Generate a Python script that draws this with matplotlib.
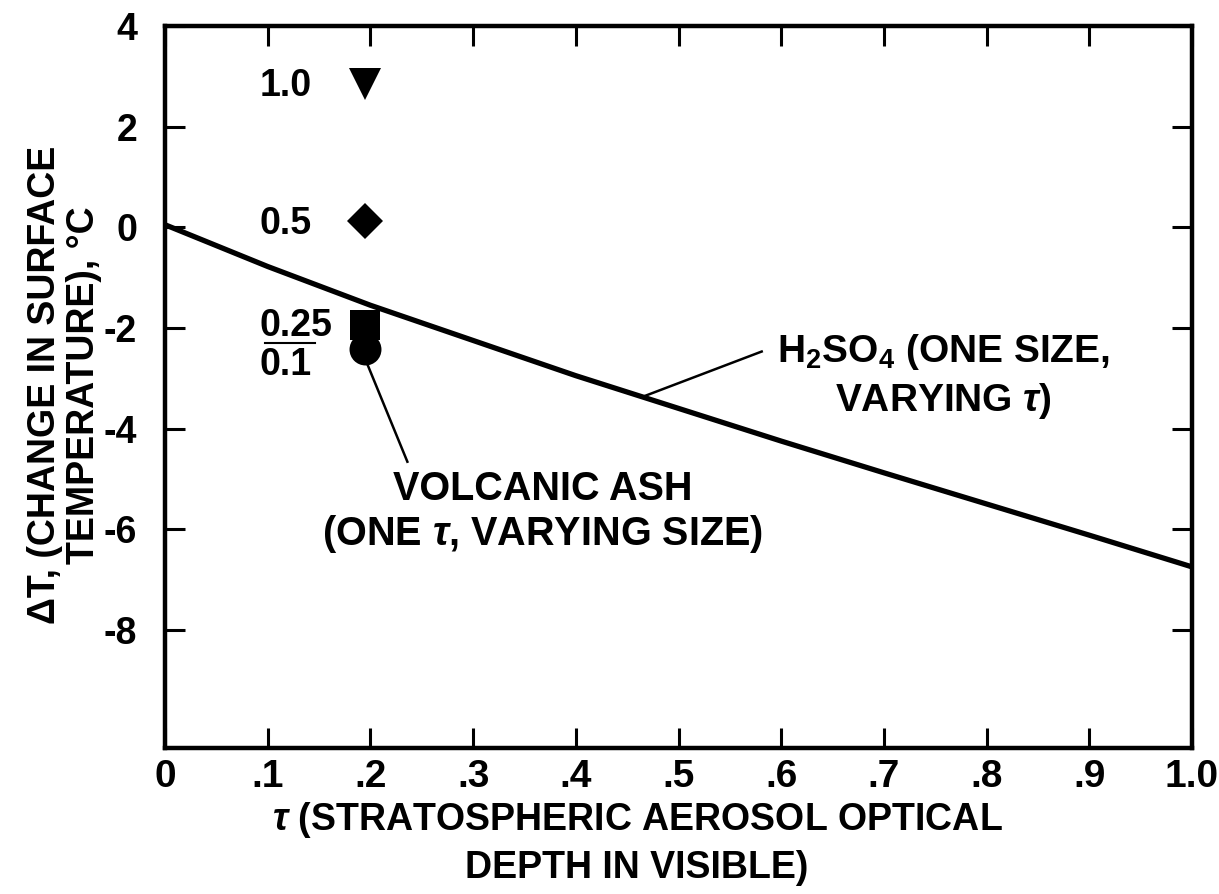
import matplotlib
matplotlib.use("Agg")
import matplotlib.pyplot as plt

plt.rcParams["font.family"] = ["Liberation Sans", "DejaVu Sans"]
plt.rcParams["font.weight"] = "bold"
plt.rcParams["mathtext.fontset"] = "custom"
plt.rcParams["mathtext.rm"] = "Liberation Sans:bold"
plt.rcParams["mathtext.it"] = "Liberation Sans:italic:bold"
plt.rcParams["mathtext.bf"] = "Liberation Sans:bold"

# H2SO4 response: surface temperature change vs optical depth
tau = [0.0, 0.1, 0.2, 0.3, 0.4, 0.5, 0.6, 0.7, 0.8, 0.9, 1.0]
dT_h2so4 = [0.05, -0.78, -1.55, -2.25, -2.95, -3.6, -4.25, -4.88, -5.5, -6.12, -6.75]

# Volcanic ash at a single optical depth, varying particle size
ash_tau = 0.195
ash_sizes = ["1.0", "0.5", "0.25", "0.1"]
ash_dT = [2.85, 0.12, -1.95, -2.42]
ash_markers = ["v", "D", "s", "o"]

xticks = [0.0, 0.1, 0.2, 0.3, 0.4, 0.5, 0.6, 0.7, 0.8, 0.9, 1.0]
xtick_labels = ["0", ".1", ".2", ".3", ".4", ".5", ".6", ".7", ".8", ".9", "1.0"]
yticks = [4, 2, 0, -2, -4, -6, -8]
ytick_labels = ["4", "2", "0", "-2", "-4", "-6", "-8"]

fig = plt.figure(figsize=(12.19, 8.94), dpi=100)
ax = fig.add_axes([165 / 1219, 1 - 748 / 894, (1192 - 165) / 1219, (748 - 26) / 894])

ax.plot(tau, dT_h2so4, color="black", lw=3.8, solid_capstyle="butt")

msizes = {"v": 23, "D": 18, "s": 22, "o": 23}
for m, v in zip(ash_markers, ash_dT):
    ax.plot([ash_tau], [v], marker=m, ms=msizes[m], color="black",
            markeredgewidth=0, linestyle="none")

# size labels beside the ash points
label_x = 0.0925
label_base = [2.61, -0.14, -2.17, -2.93]
for txt, yb in zip(ash_sizes, label_base):
    ax.text(label_x, yb, txt, fontsize=27, fontweight="bold", ha="left", va="baseline")
ax.plot([0.097, 0.146], [-2.31, -2.31], color="black", lw=1.5)

# leader lines and annotations (baseline given for the last line of each block)
ax.plot([0.197, 0.236], [-2.72, -4.66], color="black", lw=1.8)
ax.text(0.368, -6.31, "VOLCANIC ASH\n(ONE $\\tau$, VARYING SIZE)", fontsize=28.5,
        fontweight="bold", ha="center", va="baseline", multialignment="center",
        linespacing=1.15)

ax.plot([0.465, 0.581], [-3.37, -2.47], color="black", lw=1.8)
ax.text(0.758, -3.66, "H$_2$SO$_4$ (ONE SIZE,\nVARYING $\\tau$)", fontsize=28,
        fontweight="bold", ha="center", va="baseline", multialignment="center",
        linespacing=1.33)

ax.set_xlim(0, 1.0)
ax.set_ylim(-10.35, 4)
ax.set_xticks(xticks)
ax.set_xticklabels(xtick_labels)
ax.set_yticks(yticks)
ax.set_yticklabels(ytick_labels)

ax.tick_params(axis="both", direction="in", length=14.4, width=2.2,
               labelsize=28, top=True, right=True)
ax.tick_params(axis="x", pad=8)
ax.tick_params(axis="y", pad=20, labelsize=27)
for lab in ax.get_xticklabels() + ax.get_yticklabels():
    lab.set_fontweight("bold")
for sp in ax.spines.values():
    sp.set_linewidth(3.2)

ax.set_xlabel("$\\tau$ (STRATOSPHERIC AEROSOL OPTICAL\nDEPTH IN VISIBLE)",
              fontsize=27, fontweight="bold", va="baseline", linespacing=1.36)
ax.xaxis.set_label_coords((637 - 165) / 1027, (748 - 878) / 722)

ax.set_ylabel("\u0394T, (CHANGE IN SURFACE\nTEMPERATURE), \u00b0C",
              fontsize=27, fontweight="bold", va="baseline", linespacing=1.1)
ax.yaxis.set_label_coords((91 - 165) / 1027, (748 - 385) / 722)

fig.savefig("out.png", dpi=100)
